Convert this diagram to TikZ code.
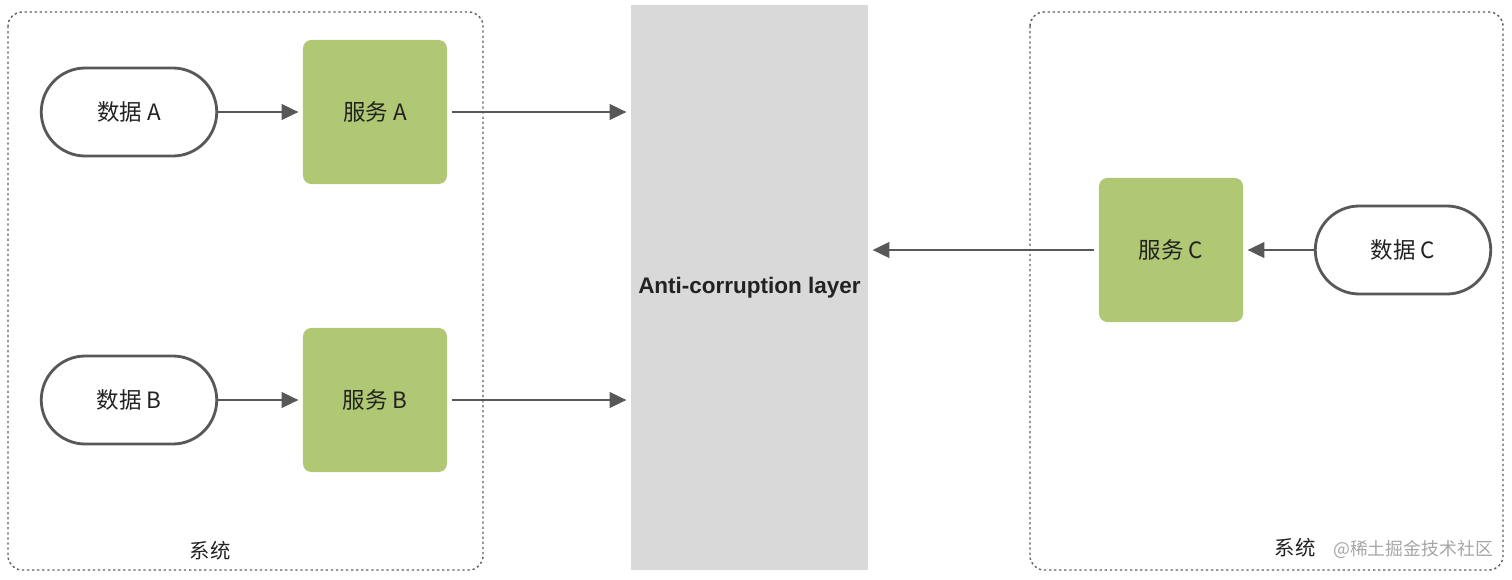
\documentclass[tikz,border=0pt]{standalone}
\usepackage{fontspec}
\setmainfont{Liberation Sans}
\newfontfamily\cjk{Noto Sans CJK SC}
\usetikzlibrary{arrows.meta,positioning,shapes.misc}
\definecolor{svcgreen}{RGB}{176,200,115}
\definecolor{layergray}{RGB}{217,217,217}
\definecolor{edgegray}{RGB}{88,88,88}
\definecolor{boxline}{RGB}{95,95,95}
\definecolor{inkgray}{RGB}{34,34,34}

\tikzset{
  data/.style={rounded rectangle, draw=edgegray, line width=2pt, fill=white,
    minimum width=4.62cm, minimum height=2.2cm, text=inkgray,
    font=\cjk\fontsize{16}{19}\selectfont},
  service/.style={rectangle, rounded corners=6pt, fill=svcgreen,
    minimum width=3.6cm, minimum height=3.6cm, text=inkgray,
    font=\cjk\fontsize{16}{19}\selectfont},
  flow/.style={-{Triangle[length=12pt,width=11pt]}, line width=2pt, draw=edgegray},
  system/.style={draw=boxline, line width=1pt, dash pattern=on 1.6pt off 2pt, rounded corners=10pt},
  caption/.style={text=inkgray, font=\cjk\fontsize{14.5}{17}\selectfont},
}

\begin{document}
\begin{tikzpicture}[x=0.025cm, y=-0.025cm]
        \useasboundingbox (0,0) rectangle (1512,579);

        % the two systems
        \draw[system] (8,12) rectangle (483,570);
        \draw[system] (1030,12) rectangle (1503,570);

        % the layer in between
        \node[fill=layergray, minimum width=5.925cm, minimum height=14.125cm,
              font=\bfseries\fontsize{16}{19}\selectfont, text=inkgray]
              (acl) at (749.5,287.5) {Anti-corruption layer};

        % left system
        \node[data] (dataA) at (129,112) {数据 A};
        \node[service] (svcA) at (375,112) {服务 A};
        \node[data] (dataB) at (129,400) {数据 B};
        \node[service] (svcB) at (375,400) {服务 B};
        \node[caption] (sysL) at (210,551) {系统};

        % right system
        \node[service] (svcC) at (1171,250) {服务 C};
        \node[data] (dataC) at (1403,250) {数据 C};
        \node[caption] (sysR) at (1295,548) {系统};
        \node[text=black!35, font=\cjk\fontsize{12.7}{15}\selectfont] (mark) at (1413,549) {@稀土掘金技术社区};

        % flows
        \draw[flow, shorten >=3pt] (dataA.east) -- (svcA.west);
        \draw[flow, shorten >=3pt] (dataB.east) -- (svcB.west);
        \draw[flow, shorten <=3pt, shorten >=3pt] (svcA.east) -- (svcA.east -| acl.west);
        \draw[flow, shorten <=3pt, shorten >=3pt] (svcB.east) -- (svcB.east -| acl.west);
        \draw[flow, shorten >=3pt] (dataC.west) -- (svcC.east);
        \draw[flow, shorten <=3pt, shorten >=3pt] (svcC.west) -- (svcC.west -| acl.east);
    \end{tikzpicture}
\end{document}
